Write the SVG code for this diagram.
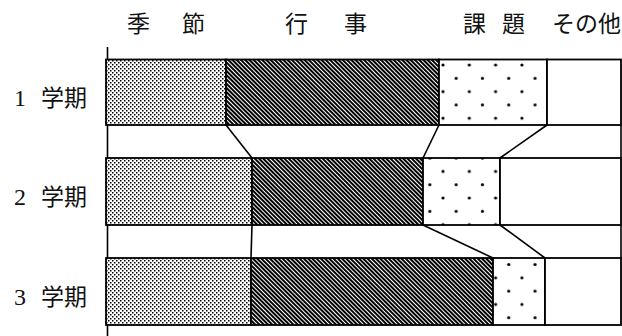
<svg xmlns="http://www.w3.org/2000/svg" width="622" height="336" viewBox="0 0 622 336">
  <style>
    .lbl { font-family: "Liberation Serif", "Noto Sans CJK JP", serif; font-size: 23px; fill: #111; }
    .num { font-size: 24px; }
    .seg { stroke: #000; stroke-width: 1.8; }
    .season { fill: url(#pSeason); }
    .event { fill: url(#pEvent); }
    .task { fill: url(#pTask); }
    .other { fill: #fff; }
    .conn { stroke: #000; stroke-width: 1.6; fill: none; }
  </style>
  <defs>
    <pattern id="pSeason" patternUnits="userSpaceOnUse" x="0" y="0" width="4" height="4">
      <rect width="4" height="4" fill="#fff"/>
      <rect x="0" y="0" width="1.5" height="1.5" fill="#000"/>
      <rect x="2" y="2" width="1.5" height="1.5" fill="#000"/>
    </pattern>
    <pattern id="pEvent" patternUnits="userSpaceOnUse" x="0" y="0" width="3" height="3" patternTransform="rotate(-45)">
      <rect width="3" height="3" fill="#000"/>
      <rect x="0" y="0" width="1" height="3" fill="#fff"/>
    </pattern>
    <pattern id="pTask" patternUnits="userSpaceOnUse" x="443" y="65" width="26.3" height="26.6">
      <rect width="26.3" height="26.6" fill="#fff"/>
      <circle cx="0" cy="0" r="1.6" fill="#000"/>
      <circle cx="26.3" cy="0" r="1.6" fill="#000"/>
      <circle cx="0" cy="26.6" r="1.6" fill="#000"/>
      <circle cx="26.3" cy="26.6" r="1.6" fill="#000"/>
      <circle cx="13.15" cy="13.3" r="1.6" fill="#000"/>
    </pattern>
  </defs>

  <rect width="622" height="336" fill="#fff"/>

  <g id="headers">
    <text class="lbl" x="127 160 182" y="32">季 節</text>
    <text class="lbl" x="285 320 344" y="32">行 事</text>
    <text class="lbl" x="463 490 502" y="32">課 題</text>
    <text class="lbl" x="552" y="32">その他</text>
  </g>

  <g id="row-labels">
    <text class="lbl" x="14 31 41 64" y="106"><tspan class="num">1</tspan> 学期</text>
    <text class="lbl" x="14 31 41 64" y="205"><tspan class="num">2</tspan> 学期</text>
    <text class="lbl" x="14 31 41 64" y="305"><tspan class="num">3</tspan> 学期</text>
  </g>

  <g id="axis">
    <line x1="107.5" y1="47" x2="107.5" y2="336" stroke="#000" stroke-width="1.6"/>
  </g>

  <g id="bar1">
    <rect class="seg season" x="106" y="59.5" width="120" height="65.5"/>
    <rect class="seg event" x="226" y="59.5" width="213" height="65.5"/>
    <rect class="seg task" x="439" y="59.5" width="108" height="65.5"/>
    <rect class="seg other" x="547" y="59.5" width="74" height="65.5"/>
  </g>

  <g id="bar2">
    <rect class="seg season" x="106" y="158" width="146" height="67"/>
    <rect class="seg event" x="252" y="158" width="171" height="67"/>
    <rect class="seg task" x="423" y="158" width="77" height="67"/>
    <rect class="seg other" x="500" y="158" width="121" height="67"/>
  </g>

  <g id="bar3">
    <rect class="seg season" x="106" y="258" width="145" height="67"/>
    <rect class="seg event" x="251" y="258" width="242" height="67"/>
    <rect class="seg task" x="493" y="258" width="52" height="67"/>
    <rect class="seg other" x="545" y="258" width="76" height="67"/>
  </g>

  <g id="connectors">
    <line class="conn" x1="226" y1="125" x2="252" y2="158"/>
    <line class="conn" x1="439" y1="125" x2="423" y2="158"/>
    <line class="conn" x1="547" y1="125" x2="500" y2="158"/>
    <line class="conn" x1="621" y1="125" x2="621" y2="158"/>
    <line class="conn" x1="252" y1="225" x2="251" y2="258"/>
    <line class="conn" x1="423" y1="225" x2="493" y2="258"/>
    <line class="conn" x1="500" y1="225" x2="545" y2="258"/>
    <line class="conn" x1="621" y1="225" x2="621" y2="258"/>
  </g>
</svg>
